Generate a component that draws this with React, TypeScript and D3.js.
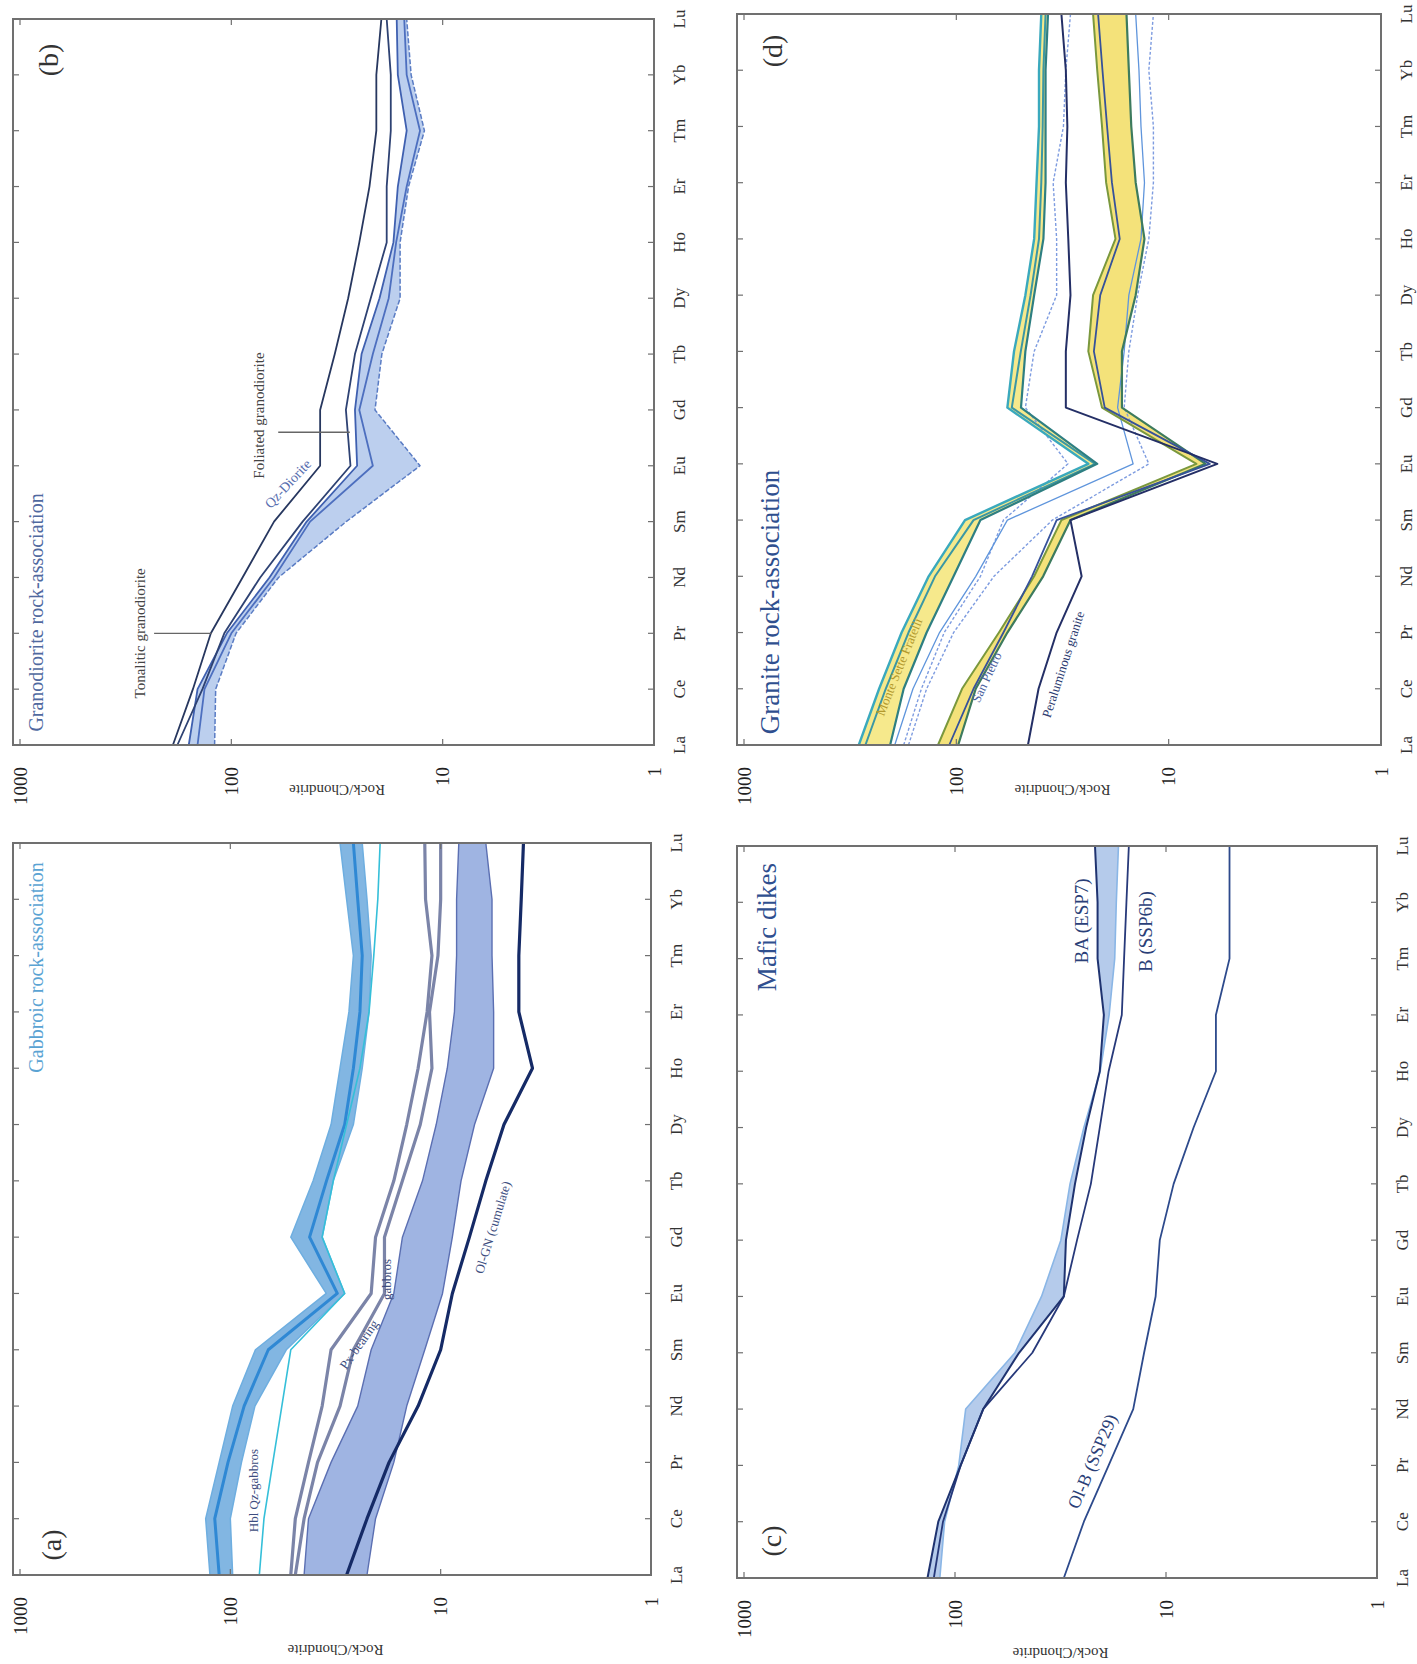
import React from 'react';
import * as d3 from 'd3';

// ---------- categories & ticks ----------
const REE = ['La', 'Ce', 'Pr', 'Nd', 'Sm', 'Eu', 'Gd', 'Tb', 'Dy', 'Ho', 'Er', 'Tm', 'Yb', 'Lu'];
const LOG_TICKS = [1, 10, 100, 1000];

// ---------- (a) Gabbroic rock-association ----------
const aHblHi = [125, 131, 113, 97.5, 76, 35, 51.6, 40.4, 33.2, 30.1, 27.3, 26, 28, 30.1];
const aHblMid = [113, 118.6, 102.6, 86, 66, 31, 42, 34.9, 28.6, 26, 24.2, 23.6, 24.8, 26];
const aHblLo = [97.5, 100, 88.5, 76.4, 54.2, 28.6, 36.6, 32.4, 26, 23.6, 21.9, 21.4, 22.4, 23.6];
const aCyan = [72.8, 69.2, 62.8, 56.9, 51.6, 28.6, 36.6, 32.4, 28, 24.2, 21.9, 20.8, 19.9, 19.4];
const aPx1 = [51.6, 49.1, 42.5, 36.6, 33.2, 21.4, 20.4, 16.7, 14.5, 12.8, 11.6, 11, 11.8, 11.9];
const aPx2 = [49.1, 44.6, 38.5, 30.1, 26, 18.5, 18.5, 15.2, 12.5, 11, 11.3, 10.3, 10, 10];
const aOlHi = [44.6, 42.5, 33.2, 24.8, 21.4, 16.7, 15.2, 12.2, 10.5, 9.3, 8.6, 8.4, 8.4, 8.2];
const aOlLo = [22.4, 20.4, 16.7, 14.5, 11.9, 9.8, 8.8, 8.0, 6.9, 5.6, 5.6, 5.7, 5.7, 6.1];
const aOlCum = [28, 22.4, 17.6, 12.8, 10, 8.8, 7.3, 6.1, 5.0, 3.66, 4.25, 4.25, 4.14, 4.04];

// ---------- (b) Granodiorite rock-association ----------
const bTonal = [189, 152, 125, 88.5, 62.8, 38, 38, 32.4, 28, 24.8, 22.2, 20.6, 20.6, 19.5];
const bFoli = [180, 137, 108, 73, 46, 27.3, 28.7, 26, 21.9, 18.4, 18.4, 17.6, 17.6, 18.4];
const bQzHi = [159, 144.5, 105, 66, 44, 25.4, 26, 24.2, 19.9, 17.1, 16.3, 14.8, 16.3, 16.5];
const bQzMid = [144.5, 134, 100, 62.8, 42.4, 21.4, 24.8, 21.4, 18, 16.6, 14.8, 12.8, 14.8, 15.2];
const bQzLo = [120, 118.6, 95, 59.8, 28.6, 12.8, 20.9, 19.4, 15.9, 15.9, 14.5, 12.2, 14.1, 14.8];

// ---------- (c) Mafic dikes ----------
const cBA = [135, 120, 94, 73.5, 49.7, 30.5, 29.8, 27, 23.9, 20.6, 19.7, 21.1, 21.1, 21.7];
const cBandEdge = [118, 112, 96, 89, 52, 38.9, 31.5, 28.5, 24.5, 20.5, 18.6, 17.5, 17.2, 16.8];
const cB = [126, 114, 94, 73.5, 43, 30.5, 26.4, 22.7, 20.6, 18.7, 16.2, 15.8, 15.4, 15];
const cOlB = [30.5, 24.5, 18.7, 14.3, 12.7, 11.2, 10.7, 9.2, 7.4, 5.8, 5.8, 5.0, 5.0, 5.0];

// ---------- (d) Granite rock-association ----------
const dMsfHi = [288, 231, 181, 135, 91, 23.9, 57.5, 53.5, 47.3, 43, 41.9, 40.8, 40.8, 39.8];
const dMsfMid = [268, 215, 168, 126, 83, 22.2, 54.8, 49.7, 44.7, 40.8, 39.8, 39.2, 38.9, 38];
const dMsfLo = [205, 177, 138, 103, 77, 21.7, 49.6, 47.3, 43, 38.9, 38, 38, 38, 37];
const dDot1 = [177, 146, 114, 77, 60, 29.8, 47.3, 43, 33.7, 33.7, 35, 31.3, 30.5, 29];
const dBlue = [195, 160, 120, 81, 57.5, 14.7, 17.4, 16.2, 15.4, 13.5, 13, 13.5, 13.8, 14.3];
const dDot2 = [168, 138, 103, 66.5, 35.3, 12.4, 16.2, 15.4, 14, 12.4, 11.8, 11.8, 12.4, 11.8];
const dSpHi = [122, 94, 63, 43, 32, 7.4, 20.6, 23.9, 22.7, 17.8, 19.7, 20.6, 21.7, 22.7];
const dSpLo = [98, 81, 57.5, 39, 29, 6.7, 16.6, 16.6, 14.3, 13, 14.3, 15, 15.4, 15.8];
const dBlue2 = [108, 83, 60, 44, 33.7, 6.4, 20, 22.5, 21, 17, 18.5, 19.5, 20.5, 21.5];
const dPeral = [46, 41, 33.7, 25.7, 29, 5.9, 30.5, 30.5, 29, 29.7, 30.5, 30, 30.5, 32];

const FONT = "'Liberation Serif', 'Times New Roman', serif";

type Line = { vals: number[]; color: string; width: number; dash?: string };
type Band = { hi: number[]; lo: number[]; fill: string };
type Note = { text: string; cat: number; val: number; size: number; color: string; angle?: number; anchor?: string };
type Leader = { cat: number; from: number; to: number };
type PanelCfg = {
  letter: string; letterAt: 'left' | 'right'; letterDX: number; letterY: number;
  x0: number; x1: number; y0: number; y1: number; labelOff: number;
  bands: Band[]; lines: Line[]; notes: Note[]; leaders: Leader[];
  title: { text: string; cat: number; Y: number; size: number; color: string; anchor: string };
};

const panels: PanelCfg[] = [
  {
    letter: '(a)', letterAt: 'left', letterDX: 30, letterY: 48,
    x0: 13, x1: 651, y0: 843, y1: 1575, labelOff: 70,
    bands: [
      { hi: aHblHi, lo: aHblLo, fill: '#82b6e2' },
      { hi: aOlHi, lo: aOlLo, fill: '#9fb4e2' },
    ],
    lines: [
      { vals: aHblHi, color: '#6eaee0', width: 1.5 },
      { vals: aHblLo, color: '#6eaee0', width: 1.5 },
      { vals: aHblMid, color: '#2f88d4', width: 3 },
      { vals: aCyan, color: '#35bfd9', width: 1.6 },
      { vals: aPx1, color: '#7b84a8', width: 3.2 },
      { vals: aPx2, color: '#7b84a8', width: 3.2 },
      { vals: aOlHi, color: '#5b6fb2', width: 1.4 },
      { vals: aOlLo, color: '#5b6fb2', width: 1.4 },
      { vals: aOlCum, color: '#152a66', width: 3.2 },
    ],
    notes: [
      { text: 'Hbl Qz-gabbros', cat: 1.5, val: 74, size: 13, color: '#3d4d80' },
      { text: 'Px-bearing', cat: 4.05, val: 23.5, size: 13, color: '#3d4d80', angle: 35 },
      { text: 'gabbros', cat: 5.25, val: 17.3, size: 13, color: '#3d4d80' },
      { text: 'Ol-GN (cumulate)', cat: 6.15, val: 5.4, size: 13, color: '#3d4d80', angle: 17 },
    ],
    leaders: [],
    title: { text: 'Gabbroic rock-association', cat: 12.66, Y: 30, size: 20, color: '#5aa3d3', anchor: 'end' },
  },
  {
    letter: '(b)', letterAt: 'right', letterDX: 41, letterY: 45,
    x0: 13, x1: 654, y0: 19, y1: 745, labelOff: 40,
    bands: [{ hi: bQzHi, lo: bQzLo, fill: '#bccfee' }],
    lines: [
      { vals: bQzLo, color: '#5a7cc4', width: 1.5, dash: '5 2' },
      { vals: bQzMid, color: '#4d6fbf', width: 1.8 },
      { vals: bQzHi, color: '#3f60b0', width: 1.8 },
      { vals: bFoli, color: '#2e4273', width: 1.8 },
      { vals: bTonal, color: '#27375f', width: 1.8 },
    ],
    notes: [
      { text: 'Tonalitic granodiorite', cat: 2.0, val: 257, size: 15, color: '#444' },
      { text: 'Foliated granodiorite', cat: 5.9, val: 70, size: 15, color: '#444' },
      { text: 'Qz-Diorite', cat: 4.62, val: 52, size: 14, color: '#5a6fb0', angle: 43 },
    ],
    leaders: [
      { cat: 2.0, from: 232, to: 124 },
      { cat: 5.6, from: 60, to: 27.5 },
    ],
    title: { text: 'Granodiorite rock-association', cat: 0.24, Y: 30, size: 20, color: '#50699f', anchor: 'start' },
  },
  {
    letter: '(c)', letterAt: 'left', letterDX: 37, letterY: 44,
    x0: 737, x1: 1377, y0: 846, y1: 1578, labelOff: 70,
    bands: [{ hi: cBandEdge, lo: cBA, fill: '#b5cbeb' }],
    lines: [
      { vals: cBandEdge, color: '#8ab6e6', width: 1.6 },
      { vals: cB, color: '#27397a', width: 1.8 },
      { vals: cBA, color: '#1f3370', width: 2 },
      { vals: cOlB, color: '#2d4a8c', width: 1.8 },
    ],
    notes: [
      { text: 'BA (ESP7)', cat: 11.67, val: 23.5, size: 19, color: '#2b3f78', anchor: 'middle' },
      { text: 'B (SSP6b)', cat: 11.48, val: 11.6, size: 19, color: '#2b3f78', anchor: 'middle' },
      { text: 'Ol-B (SSP29)', cat: 2.03, val: 21, size: 18, color: '#2b3f78', angle: 23 },
    ],
    leaders: [],
    title: { text: 'Mafic dikes', cat: 12.7, Y: 39, size: 27, color: '#2f4f8f', anchor: 'end' },
  },
  {
    letter: '(d)', letterAt: 'right', letterDX: 37, letterY: 45,
    x0: 737, x1: 1381, y0: 14, y1: 745, labelOff: 40,
    bands: [
      { hi: dMsfHi, lo: dMsfLo, fill: '#f6e98c' },
      { hi: dSpHi, lo: dSpLo, fill: '#f4e27a' },
    ],
    lines: [
      { vals: dDot1, color: '#7e9ce0', width: 1.4, dash: '3 2' },
      { vals: dDot2, color: '#7e9ce0', width: 1.4, dash: '3 2' },
      { vals: dBlue, color: '#5f95dc', width: 1.3 },
      { vals: dMsfHi, color: '#3aa9bd', width: 2.4 },
      { vals: dMsfMid, color: '#3b97a4', width: 2 },
      { vals: dMsfLo, color: '#2e7f82', width: 2.2 },
      { vals: dSpHi, color: '#7a983d', width: 2 },
      { vals: dSpLo, color: '#3d7b5e', width: 2.2 },
      { vals: dBlue2, color: '#36529a', width: 1.8 },
      { vals: dPeral, color: '#242f66', width: 2 },
    ],
    notes: [
      { text: 'Monte Sette Fratelli', cat: 1.36, val: 178, size: 13, color: '#b39a2e', angle: 22 },
      { text: 'San Pietro', cat: 1.17, val: 69, size: 13, color: '#4a5fa0', angle: 25 },
      { text: 'Peraluminous granite', cat: 1.41, val: 30, size: 13, color: '#2c3a70', angle: 18 },
    ],
    leaders: [],
    title: { text: 'Granite rock-association', cat: 0.19, Y: 42, size: 27, color: '#2f4f8f', anchor: 'start' },
  },
];

function Panel({ p }: { p: PanelCfg }) {
  const w = p.y1 - p.y0;
  const h = p.x1 - p.x0;
  const x = d3.scalePoint<string>().domain(REE).range([0, w]);
  const y = d3.scaleLog().domain([1, 1000]).range([h, 7]);
  const step = x.step();
  const idx = REE.map((_, i) => i);
  const lineGen = (vals: number[]) =>
    d3.line<number>().x((i) => x(REE[i]) as number).y((i) => y(vals[i]))(idx) || '';
  const areaGen = (b: Band) =>
    d3.area<number>().x((i) => x(REE[i]) as number).y0((i) => y(b.lo[i])).y1((i) => y(b.hi[i]))(idx) || '';
  const frame = '#707070';
  return (
    <g transform={`translate(${p.x0},${p.y1}) rotate(-90)`} fontFamily={FONT}>
      {p.bands.map((b, i) => (
        <path key={'b' + i} d={areaGen(b)} fill={b.fill} stroke="none" />
      ))}
      {p.lines.map((l, i) => (
        <path key={'l' + i} d={lineGen(l.vals)} fill="none" stroke={l.color} strokeWidth={l.width}
          strokeDasharray={l.dash} strokeLinejoin="round" />
      ))}
      {p.leaders.map((ld, i) => (
        <line key={'ld' + i} x1={ld.cat * step} x2={ld.cat * step} y1={y(ld.from)} y2={y(ld.to)}
          stroke="#666" strokeWidth={1.3} />
      ))}
      {p.notes.map((n, i) => {
        const X = n.cat * step;
        const Y = y(n.val);
        return (
          <text key={'n' + i} x={X} y={Y} fontSize={n.size} fill={n.color}
            textAnchor={n.anchor || 'middle'}
            transform={n.angle ? `rotate(${n.angle},${X},${Y})` : undefined}>{n.text}</text>
        );
      })}
      <text x={p.title.cat * step} y={p.title.Y} fontSize={p.title.size} fill={p.title.color}
        textAnchor={p.title.anchor}>{p.title.text}</text>
      <text x={p.letterAt === 'left' ? p.letterDX : w - p.letterDX} y={p.letterY} fontSize={28}
        fill="#333" textAnchor="middle">{p.letter}</text>
      {/* frame */}
      <rect x={0} y={0} width={w} height={h} fill="none" stroke={frame} strokeWidth={2} />
      {/* category ticks */}
      {REE.map((c) => (
        <g key={'t' + c}>
          <line x1={x(c)} x2={x(c)} y1={h} y2={h - 6} stroke={frame} strokeWidth={1.2} />
          <line x1={x(c)} x2={x(c)} y1={0} y2={6} stroke={frame} strokeWidth={1.2} />
          <text x={x(c)} y={h + 31} fontSize={17} fill="#333" textAnchor="middle">{c}</text>
        </g>
      ))}
      {/* log ticks */}
      {LOG_TICKS.map((v) => (
        <g key={'v' + v}>
          <line x1={0} x2={6} y1={y(v)} y2={y(v)} stroke={frame} strokeWidth={1.2} />
          <line x1={w} x2={w - 6} y1={y(v)} y2={y(v)} stroke={frame} strokeWidth={1.2} />
          <text x={-22} y={y(v)} dy="0.35em" fontSize={19} fill="#222" textAnchor="end">{String(v)}</text>
        </g>
      ))}
      <text x={-p.labelOff} y={(h + 7) / 2} fontSize={15} fill="#333" textAnchor="middle"
        transform={`rotate(-90,${-p.labelOff},${(h + 7) / 2})`}>Rock/Chondrite</text>
    </g>
  );
}

export default function App() {
  return (
    <svg width={1417} height={1664} viewBox="0 0 1417 1664"
      style={{ position: 'absolute', left: 0, top: 0, background: '#fff' }}>
      <rect x={0} y={0} width={1417} height={1664} fill="#fff" />
      {panels.map((p) => (
        <Panel key={p.letter} p={p} />
      ))}
    </svg>
  );
}
